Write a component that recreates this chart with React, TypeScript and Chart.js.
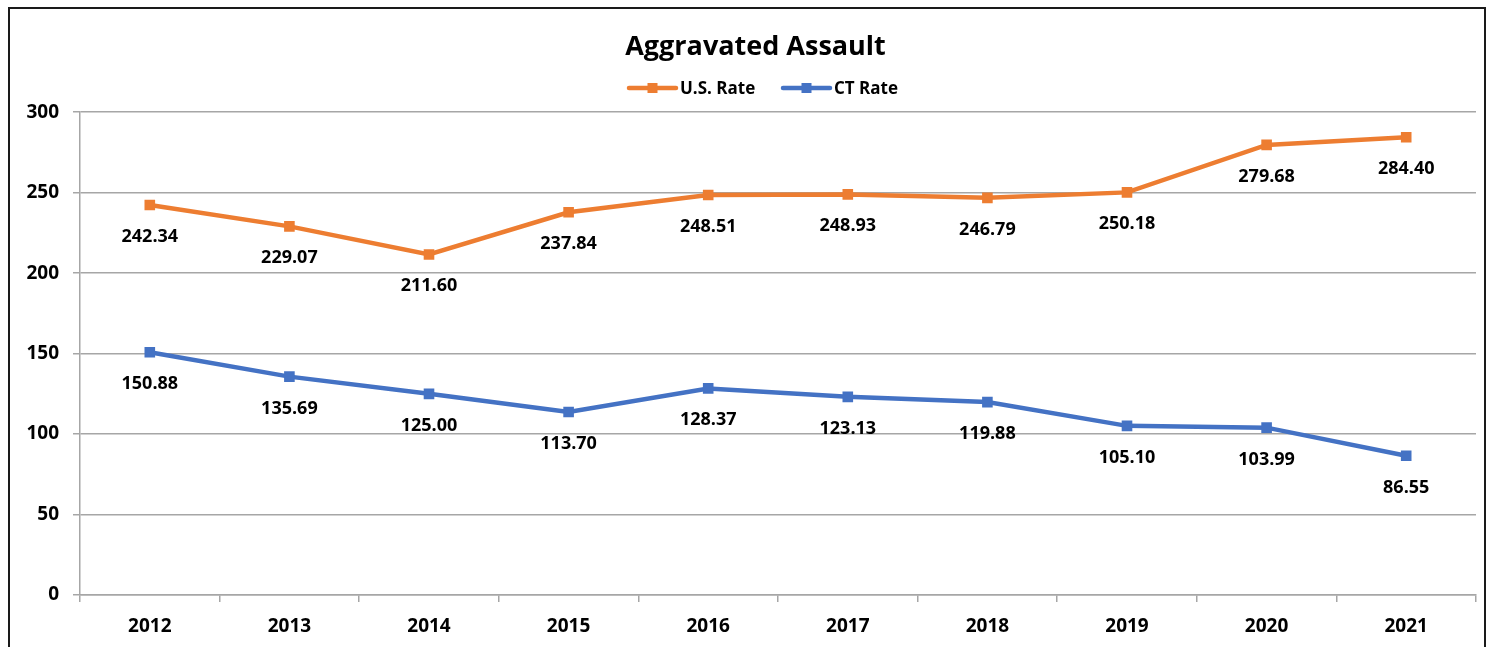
import React, { useEffect, useRef } from "react";
import { Chart, registerables } from "chart.js";

Chart.register(...registerables);

const years = ["2012", "2013", "2014", "2015", "2016", "2017", "2018", "2019", "2020", "2021"];
const usRate = [242.34, 229.07, 211.6, 237.84, 248.51, 248.93, 246.79, 250.18, 279.68, 284.4];
const ctRate = [150.88, 135.69, 125.0, 113.7, 128.37, 123.13, 119.88, 105.1, 103.99, 86.55];
const seriesNames = ["U.S. Rate", "CT Rate"];
const seriesColors = ["#ED7D31", "#4472C4"];
const yTicks = [0, 50, 100, 150, 200, 250, 300];
const titleText = "Aggravated Assault";

const FONT = "'Open Sans', Lato, sans-serif";

const framePlugin = {
  id: "frame",
  beforeDraw(chart: any) {
    const ctx = chart.ctx;
    ctx.save();
    ctx.fillStyle = "#ffffff";
    ctx.fillRect(0, 0, chart.width, chart.height);
    ctx.strokeStyle = "#1a1a1a";
    ctx.lineWidth = 2;
    ctx.strokeRect(9, 8, 1476, 700);
    ctx.restore();
  },
};

const headerPlugin = {
  id: "header",
  afterDraw(chart: any) {
    const ctx = chart.ctx;
    ctx.save();
    ctx.fillStyle = "#000";
    ctx.font = `bold 27px ${FONT}`;
    ctx.textAlign = "center";
    ctx.textBaseline = "alphabetic";
    ctx.fillText(titleText, 755.5, 55);

    const items = [
      { x0: 629, x1: 676, tx: 680 },
      { x0: 783, x1: 830, tx: 834 },
    ];
    const y = 88;
    items.forEach((it, i) => {
      ctx.strokeStyle = seriesColors[i];
      ctx.lineWidth = 4.5;
      ctx.lineCap = "round";
      ctx.beginPath();
      ctx.moveTo(it.x0, y);
      ctx.lineTo(it.x1, y);
      ctx.stroke();
      ctx.fillStyle = seriesColors[i];
      const cx = (it.x0 + it.x1) / 2;
      ctx.fillRect(cx - 5, y - 5, 10, 10);
      ctx.fillStyle = "#000";
      ctx.font = `bold 17px ${FONT}`;
      ctx.textAlign = "left";
      ctx.textBaseline = "alphabetic";
      ctx.fillText(seriesNames[i], it.tx, 93.5);
    });
    ctx.restore();
  },
};

const labelPlugin = {
  id: "dataLabels",
  afterDatasetsDraw(chart: any) {
    const ctx = chart.ctx;
    ctx.save();
    ctx.fillStyle = "#000";
    ctx.font = `bold 18px ${FONT}`;
    ctx.textAlign = "center";
    ctx.textBaseline = "alphabetic";
    chart.data.datasets.forEach((ds: any, di: number) => {
      const meta = chart.getDatasetMeta(di);
      meta.data.forEach((pt: any, i: number) => {
        ctx.fillText(Number(ds.data[i]).toFixed(2), pt.x, pt.y + 37);
      });
    });
    ctx.restore();
  },
};

export default function App() {
  const ref = useRef<HTMLCanvasElement>(null);
  useEffect(() => {
    if (!ref.current) return;
    const chart = new Chart(ref.current, {
      type: "line",
      data: {
        labels: years,
        datasets: [
          {
            label: seriesNames[0],
            data: usRate,
            borderColor: seriesColors[0],
            backgroundColor: seriesColors[0],
            borderWidth: 4.5,
            pointStyle: "rect",
            pointRadius: 7.5,
            pointBorderWidth: 0,
            tension: 0,
          },
          {
            label: seriesNames[1],
            data: ctRate,
            borderColor: seriesColors[1],
            backgroundColor: seriesColors[1],
            borderWidth: 4.5,
            pointStyle: "rect",
            pointRadius: 7.5,
            pointBorderWidth: 0,
            tension: 0,
          },
        ],
      },
      options: {
        animation: false,
        responsive: false,
        layout: { padding: { left: 0, right: 10, top: 0, bottom: 0 } },
        plugins: {
          legend: { display: false },
          tooltip: { enabled: false },
          title: {
            display: true,
            text: titleText,
            color: "rgba(0,0,0,0)",
            font: { family: FONT, size: 26, weight: "bold" },
            padding: { top: 29, bottom: 52 },
          },
        },
        scales: {
          x: {
            offset: true,
            grid: {
              offset: true,
              drawOnChartArea: false,
              drawTicks: true,
              tickLength: 7,
              color: "#A6A6A6",
              lineWidth: 1.5,
            },
            border: { display: true, color: "#A6A6A6", width: 1.5 },
            ticks: {
              color: "#000",
              font: { family: FONT, size: 19, weight: "bold" },
              padding: 13,
              maxRotation: 0,
            },
            afterFit: (s: any) => {
              s.height = 52;
            },
          },
          y: {
            min: 0,
            max: 300,
            afterBuildTicks: (s: any) => {
              s.ticks = yTicks.map((v) => ({ value: v }));
            },
            grid: {
              drawTicks: true,
              tickLength: 7,
              color: "#A6A6A6",
              lineWidth: 1.5,
            },
            border: { display: true, color: "#A6A6A6", width: 1.5 },
            ticks: {
              color: "#000",
              font: { family: FONT, size: 19, weight: "bold" },
              padding: 14,
            },
            afterFit: (s: any) => {
              s.width = 80;
            },
          },
        },
      },
      plugins: [framePlugin, headerPlugin, labelPlugin],
    });
    return () => chart.destroy();
  }, []);
  return (
    <div style={{ position: "fixed", left: 0, top: 0, width: 1486, height: 647 }}>
      <canvas ref={ref} width={1486} height={647} style={{ display: "block" }} />
    </div>
  );
}
